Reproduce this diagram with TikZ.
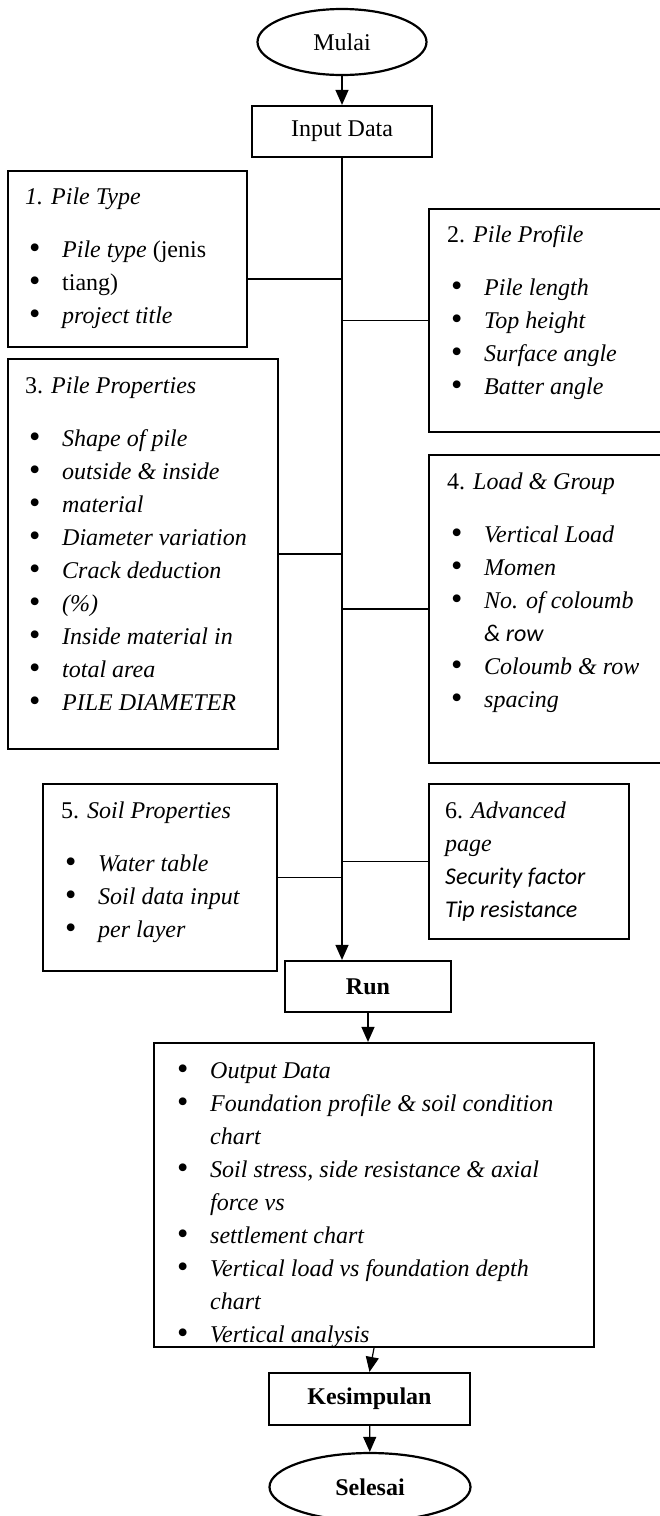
\documentclass[tikz,border=0pt]{standalone}
\usepackage{fontspec}
\setmainfont{Liberation Serif}
\newfontfamily\calibri{Carlito}
\usepackage{tikz}
\usetikzlibrary{arrows.meta}
\usetikzlibrary{shapes.geometric}
\usetikzlibrary{calc}

\newcommand{\itm}[1]{\makebox[33pt][l]{\raisebox{-1.5pt}{\scalebox{1.35}{\textbullet}}}#1\par}
\newcommand{\cont}[1]{\hspace*{33pt}#1\par}
\newcommand{\ttl}[1]{\hspace*{-4pt}#1\par\vspace{20pt}}

\begin{document}
\begin{tikzpicture}[x=1pt, y=-1pt,
font=\fontsize{24}{33}\selectfont,
node/.style = {draw=black, line width=2.2pt, inner sep=0pt},
terminal/.style = {node, rectangle},
simple/.style = {node, ellipse},
list/.style = {anchor=base west, inner sep=0pt},
edge/.style = {line width=1.2pt, -{Triangle[length=15pt, width=13pt]}},
link/.style = {line width=1.2pt}]
\useasboundingbox (0,0) rectangle (660,1516);
\clip (0,0) rectangle (660,1516);
\node[simple, minimum width=169pt, minimum height=66pt] (start) at (342,42) {Mulai};
\node[terminal, minimum width=180pt, minimum height=51pt] (inp) at (342,131.5) {Input Data};
\node[terminal, minimum width=239pt, minimum height=176pt] (type) at (127.5,259) {};
\node[terminal, minimum width=239pt, minimum height=223pt] (prof) at (548.5,320.5) {};
\node[terminal, minimum width=270pt, minimum height=390pt] (prop) at (143,554) {};
\node[terminal, minimum width=239pt, minimum height=308pt] (load) at (548.5,609) {};
\node[terminal, minimum width=234pt, minimum height=187pt] (soil) at (160,877.5) {};
\node[terminal, minimum width=200pt, minimum height=155pt] (adv) at (529,861.5) {};
\node[terminal, minimum width=166pt, minimum height=51pt] (run) at (368,986.5) {\textbf{Run}};
\node[terminal, minimum width=440pt, minimum height=304pt] (out) at (374,1195) {};
\node[terminal, minimum width=201pt, minimum height=52pt] (kes) at (369.5,1399) {\textbf{Kesimpulan}};
\node[simple, minimum width=201pt, minimum height=68pt] (end) at (370,1487) {\textbf{Selesai}};

\node[list] (typetx) at (29,204) {\parbox[t]{300pt}{%
\ttl{\textit{1. Pile Type}}
\itm{\textit{Pile type} (jenis}
\itm{tiang)}
\itm{\textit{project title}}}};
\node[list] (proftx) at (451,242) {\parbox[t]{300pt}{%
\ttl{2. \textit{Pile Profile}}
\itm{\textit{Pile length}}
\itm{\textit{Top height}}
\itm{\textit{Surface angle}}
\itm{\textit{Batter angle}}}};
\node[list] (proptx) at (29,393) {\parbox[t]{300pt}{%
\ttl{3. \textit{Pile Properties}}
\itm{\textit{Shape of pile}}
\itm{\textit{outside \& inside}}
\itm{\textit{material}}
\itm{\textit{Diameter variation}}
\itm{\textit{Crack deduction}}
\itm{\textit{(\%)}}
\itm{\textit{Inside material in}}
\itm{\textit{total area}}
\itm{\textit{PILE DIAMETER}}}};
\node[list] (loadtx) at (451,489) {\parbox[t]{300pt}{%
\ttl{4. \textit{Load \& Group}}
\itm{\textit{Vertical Load}}
\itm{\textit{Momen}}
\itm{\textit{No. of coloumb}}
\cont{{\calibri\itshape \& row}}
\itm{\textit{Coloumb \& row}}
\itm{\textit{spacing}}}};
\node[list] (soiltx) at (65,818) {\parbox[t]{300pt}{%
\ttl{5. \textit{Soil Properties}}
\itm{\textit{Water table}}
\itm{\textit{Soil data input}}
\itm{\textit{per layer}}}};
\node[list] (advtx) at (445,818) {\parbox[t]{300pt}{%
6. \textit{Advanced}\par
\textit{page}\par
{\calibri\itshape Security factor}\par
{\calibri\itshape Tip resistance}\par}};
\node[list] (outtx) at (177,1078) {\parbox[t]{420pt}{%
\itm{\textit{Output Data}}
\itm{\textit{Foundation profile \& soil condition}}
\cont{\textit{chart}}
\itm{\textit{Soil stress, side resistance \& axial}}
\cont{\textit{force vs}}
\itm{\textit{settlement chart}}
\itm{\textit{Vertical load vs foundation depth}}
\cont{\textit{chart}}
\itm{\textit{Vertical analysis}}}};

\coordinate (j1) at (342,279);
\draw[edge] (start) -- (inp);
\draw[edge] (inp.south) -- (inp.south |- run.north);
\draw[link] (type.east |- j1) -- (j1);
\draw[link] (prof.west) -- (prof.west -| inp.south);
\draw[link] (prop.east) -- (prop.east -| inp.south);
\draw[link] (load.west) -- (load.west -| inp.south);
\draw[link] (soil.east) -- (soil.east -| inp.south);
\draw[link] (adv.west) -- (adv.west -| inp.south);
\draw[edge] (run.south) -- (run.south |- out.north);
\draw[edge] (out.south) -- (kes.north);
\draw[edge] (kes) -- (end);
\end{tikzpicture}
\end{document}
